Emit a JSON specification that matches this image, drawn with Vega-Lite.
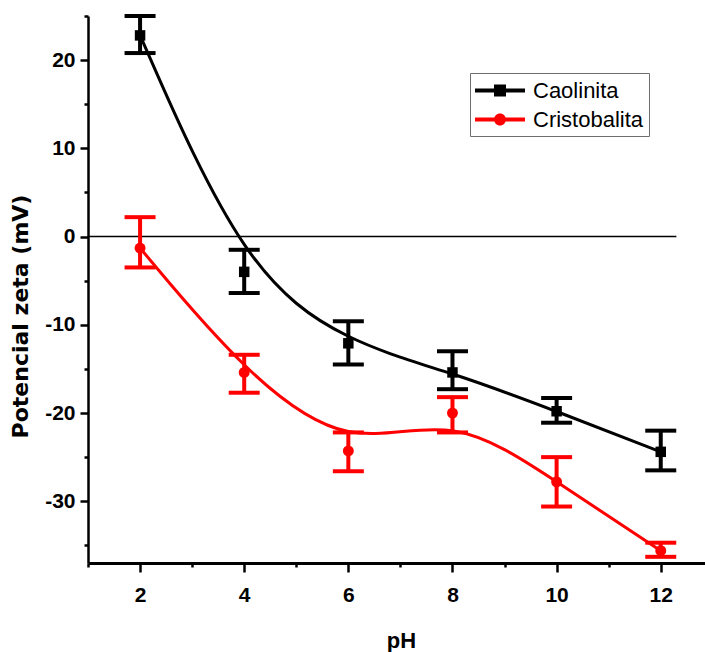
{
  "$schema": "https://vega.github.io/schema/vega-lite/v6.json",
  "width": 617,
  "height": 547,
  "autosize": {"type": "none"},
  "padding": {"left": 88, "top": 16, "right": 0, "bottom": 89},
  "background": "white",
  "config": {"view": {"stroke": null}, "font": "Liberation Sans"},
  "data": {
    "values": [
      {"series": "Caolinita", "pH": 2, "zeta": 22.8, "lo": 20.8, "hi": 25.0},
      {"series": "Caolinita", "pH": 4, "zeta": -4.0, "lo": -6.4, "hi": -1.5},
      {"series": "Caolinita", "pH": 6, "zeta": -12.1, "lo": -14.5, "hi": -9.6},
      {"series": "Caolinita", "pH": 8, "zeta": -15.4, "lo": -17.3, "hi": -13.0},
      {"series": "Caolinita", "pH": 10, "zeta": -19.8, "lo": -21.1, "hi": -18.3},
      {"series": "Caolinita", "pH": 12, "zeta": -24.4, "lo": -26.5, "hi": -22.0},
      {"series": "Cristobalita", "pH": 2, "zeta": -1.3, "lo": -3.5, "hi": 2.2},
      {"series": "Cristobalita", "pH": 4, "zeta": -15.4, "lo": -17.7, "hi": -13.4},
      {"series": "Cristobalita", "pH": 6, "zeta": -24.3, "lo": -26.6, "hi": -22.2},
      {"series": "Cristobalita", "pH": 8, "zeta": -20.0, "lo": -22.2, "hi": -18.2},
      {"series": "Cristobalita", "pH": 10, "zeta": -27.8, "lo": -30.6, "hi": -25.0},
      {"series": "Cristobalita", "pH": 12, "zeta": -35.6, "lo": -36.3, "hi": -34.7}
    ]
  },
  "encoding": {
    "x": {
      "field": "pH", "type": "quantitative",
      "scale": {"domain": [1, 12.85], "nice": false, "zero": false},
      "axis": {
        "title": "pH",
        "values": [1, 2, 3, 4, 5, 6, 7, 8, 9, 10, 11, 12],
        "labelExpr": "datum.value % 2 == 0 ? datum.label : ''",
        "grid": false,
        "domainColor": "#000", "domainWidth": 3,
        "tickColor": "#000", "tickWidth": 2.5,
        "tickSize": {"condition": {"test": "datum.value % 2 == 1", "value": 4}, "value": 9},
        "labelFont": "Liberation Sans", "labelFontSize": 21, "labelFontWeight": "bold", "labelColor": "#000",
        "labelPadding": 12, "labelFlush": false, "labelOverlap": false,
        "titleFont": "Liberation Sans", "titleFontSize": 22, "titleFontWeight": "bold", "titleColor": "#000",
        "titleX": 313, "titleY": 77, "titleBaseline": "middle", "titleAlign": "center"
      }
    },
    "y": {
      "field": "zeta", "type": "quantitative",
      "scale": {"domain": [-37, 25], "nice": false, "zero": false},
      "axis": {
        "title": "Potencial zeta (mV)",
        "values": [-35, -30, -25, -20, -15, -10, -5, 0, 5, 10, 15, 20, 25],
        "labelExpr": "datum.value % 10 == 0 ? (datum.value < 0 ? '-' + abs(datum.value) : '' + datum.value) : ''",
        "grid": false,
        "domainColor": "#000", "domainWidth": 2.5,
        "tickColor": "#000", "tickWidth": 2.5,
        "tickSize": {"condition": {"test": "datum.value % 10 != 0", "value": 4}, "value": 8},
        "labelFont": "Liberation Sans", "labelFontSize": 21, "labelFontWeight": "bold", "labelColor": "#000",
        "labelPadding": 5, "labelOverlap": false, "labelFlush": false,
        "titleFont": "DejaVu Sans", "titleFontSize": 22, "titleFontWeight": "bold", "titleColor": "#000",
        "titleX": -68, "titleY": 300, "titleBaseline": "middle", "titleAlign": "center", "titleAngle": -90
      }
    },
    "color": {
      "field": "series", "type": "nominal",
      "scale": {"domain": ["Caolinita", "Cristobalita"], "range": ["#000000", "#ff0000"]},
      "legend": {
        "title": null, "orient": "none", "legendX": 382, "legendY": 57,
        "padding": 5, "rowPadding": 5, "strokeColor": "#6e6e6e",
        "symbolSize": 625, "symbolOpacity": 1, "symbolStrokeWidth": 0,
        "labelFont": "Liberation Sans", "labelFontSize": 22, "labelColor": "#000", "labelOffset": 33,
        "encode": {
          "symbols": {
            "update": {
              "shape": {"signal": "datum.value === 'Caolinita' ? 'M-1,-0.16H3V0.16H-1Z M0.52,-0.48H1.48V0.48H0.52Z' : 'M-1,-0.16H3V0.16H-1Z M0.52,0A0.48,0.48 0 1,1 1.48,0A0.48,0.48 0 1,1 0.52,0Z'"},
              "fill": {"signal": "datum.value === 'Caolinita' ? '#000000' : '#ff0000'"},
              "stroke": {"value": "transparent"},
              "strokeWidth": {"value": 0},
              "size": {"value": 625},
              "opacity": {"value": 1}
            }
          }
        }
      }
    }
  },
  "layer": [
    {
      "data": {"values": [{"pH": 1, "pH2": 12.3, "zeta": 0, "series": "Caolinita"}]},
      "mark": {"type": "rule", "color": "#000", "strokeWidth": 1.5},
      "encoding": {"x2": {"field": "pH2"}, "color": {"value": "#000"}}
    },
    {
      "mark": {"type": "line", "interpolate": "basis", "strokeWidth": 3}
    },
    {
      "mark": {"type": "rule", "strokeWidth": 4, "opacity": 1},
      "encoding": {
        "y": {"field": "lo", "type": "quantitative", "scale": {"domain": [-37, 25], "nice": false, "zero": false}},
        "y2": {"field": "hi"}
      }
    },
    {
      "mark": {"type": "tick", "orient": "horizontal", "size": 31, "thickness": 4, "opacity": 1},
      "encoding": {
        "y": {"field": "lo", "type": "quantitative", "scale": {"domain": [-37, 25], "nice": false, "zero": false}}
      }
    },
    {
      "mark": {"type": "tick", "orient": "horizontal", "size": 31, "thickness": 4, "opacity": 1},
      "encoding": {
        "y": {"field": "hi", "type": "quantitative", "scale": {"domain": [-37, 25], "nice": false, "zero": false}}
      }
    },
    {
      "transform": [{"filter": "datum.series == 'Caolinita'"}],
      "mark": {"type": "point", "shape": "square", "filled": true, "size": 110, "opacity": 1}
    },
    {
      "transform": [{"filter": "datum.series == 'Cristobalita'"}],
      "mark": {"type": "point", "shape": "circle", "filled": true, "size": 120, "opacity": 1}
    }
  ]
}
